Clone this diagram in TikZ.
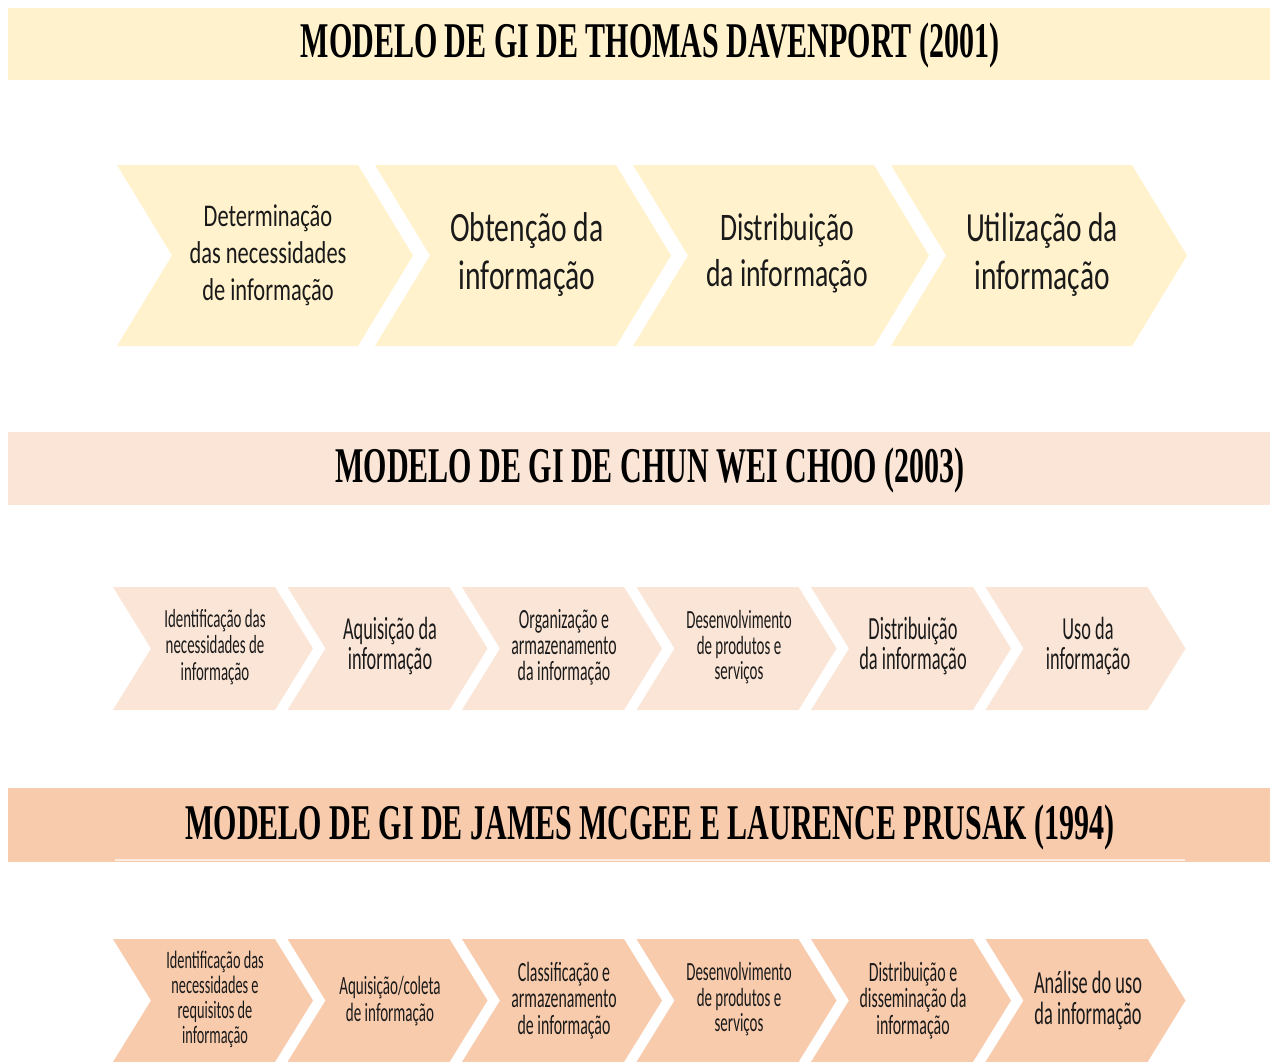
\documentclass[tikz,border=0pt]{standalone}
\usepackage{fontspec}
\setmainfont{Carlito}[FakeStretch=0.71]
\newfontfamily\rowfont{Carlito}[FakeStretch=0.57]
\newfontfamily\ttlfont{Liberation Serif}[FakeStretch=0.6]
\definecolor{cA}{HTML}{FFF2CC}
\definecolor{cB}{HTML}{FBE5D6}
\definecolor{cC}{HTML}{F8CBAD}
\definecolor{txt}{HTML}{1A1A1A}
\tikzset{
  x=1pt, y=-1pt,
  band/.style={fill=#1, draw=none},
  ttl/.style={font=\ttlfont\bfseries\fontsize{50}{55}\selectfont, text=black, inner sep=0pt},
  lbl/.style={align=center, text=txt, inner sep=0pt},
}
\newcommand{\fsz}[2]{\fontsize{#1}{#2}\selectfont}
\newcommand{\rsz}[2]{\rowfont\fontsize{#1}{#2}\selectfont}
\begin{document}
\begin{tikzpicture}
\useasboundingbox (0,0) rectangle (1280,1061);
\fill[white] (0,0) rectangle (1280,1061);

% ---------- headers ----------
\fill[band=cA] (8,8) rectangle (1270,80);
\node[ttl] (t1) at (650,45) {MODELO DE GI DE THOMAS DAVENPORT (2001)};
\fill[band=cB] (8,432) rectangle (1270,505);
\node[ttl] (t2) at (650,470) {MODELO DE GI DE CHUN WEI CHOO (2003)};
\fill[band=cC] (8,788) rectangle (1270,862);
\draw[color=cB!70!white, line width=1.5pt] (115,860) -- (1185,860);
\node[ttl] (t3) at (650,827) {MODELO DE GI DE JAMES MCGEE E LAURENCE PRUSAK (1994)};

% ---------- row 1 chevrons ----------
\foreach \i in {0,...,3}{
  \fill[cA] ({117+258*\i},165) -- ({117+258*\i+241},165) -- ({117+258*\i+296},255.5)
     -- ({117+258*\i+241},346) -- ({117+258*\i},346) -- ({117+258*\i+55},255.5) -- cycle;
}
\node[lbl, font=\fsz{31.6}{37}] (a1) at (268,255) {Determinação\\das necessidades\\de informação};
\node[lbl, font=\fsz{41.7}{48}] (a2) at (527,255) {Obtenção da\\informação};
\node[lbl, font=\fsz{39}{46}] (a3) at (787,253) {Distribuição\\da informação};
\node[lbl, font=\fsz{41.4}{48}] (a4) at (1042,255) {Utilização da\\informação};

% ---------- row 2 chevrons ----------
\foreach \i in {0,...,5}{
  \fill[cB] ({113+174.5*\i},587) -- ({113+174.5*\i+162},587) -- ({113+174.5*\i+200},648.5)
     -- ({113+174.5*\i+162},710) -- ({113+174.5*\i},710) -- ({113+174.5*\i+38},648.5) -- cycle;
}
\node[lbl, font=\rsz{26.1}{26.5}] (b1) at (215,647) {Identificação das\\necessidades de\\informação};
\node[lbl, font=\rsz{32.1}{30}] (b2) at (390,646) {Aquisição da\\informação};
\node[lbl, font=\rsz{27.8}{26}] (b3) at (564,647) {Organização e\\armazenamento\\da informação};
\node[lbl, font=\rsz{26.2}{25.5}] (b4) at (739,647.5) {Desenvolvimento\\de produtos e\\serviços};
\node[lbl, font=\rsz{32.3}{30}] (b5) at (913,646) {Distribuição\\da informação};
\node[lbl, font=\rsz{32.1}{30}] (b6) at (1088,646) {Uso da\\informação};

% ---------- row 3 chevrons ----------
\foreach \i in {0,...,5}{
  \fill[cC] ({113+174.5*\i},939) -- ({113+174.5*\i+162},939) -- ({113+174.5*\i+200},1000.5)
     -- ({113+174.5*\i+162},1062) -- ({113+174.5*\i},1062) -- ({113+174.5*\i+38},1000.5) -- cycle;
}
\node[lbl, font=\rsz{25.1}{25}] (c1) at (215,999.5) {Identificação das\\necessidades e\\requisitos de\\informação};
\node[lbl, font=\rsz{26.4}{27}] (c2) at (390,1001.5) {Aquisição/coleta\\de informação};
\node[lbl, font=\rsz{27.8}{26.5}] (c3) at (564,1000.5) {Classificação e\\armazenamento\\de informação};
\node[lbl, font=\rsz{26.2}{25.5}] (c4) at (739,999.5) {Desenvolvimento\\de produtos e\\serviços};
\node[lbl, font=\rsz{27.9}{26.5}] (c5) at (913,1000.5) {Distribuição e\\disseminação da\\informação};
\node[lbl, font=\rsz{32.2}{31}] (c6) at (1088,1000.5) {Análise do uso\\da informação};
\end{tikzpicture}
\end{document}
